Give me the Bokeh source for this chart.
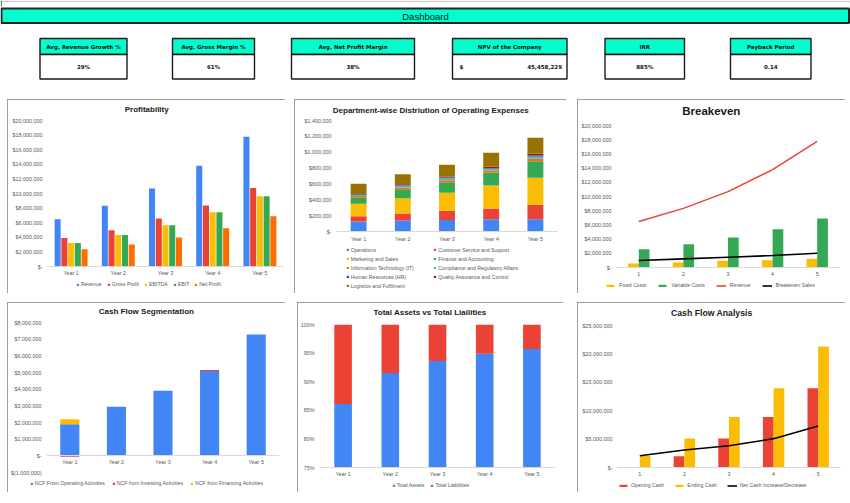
from bokeh.plotting import figure
from bokeh.models import (FactorRange, Range1d, FixedTicker, CustomJSTickFormatter,
                          PrintfTickFormatter, Legend, LegendItem, Label, ColumnDataSource)
from bokeh.transform import dodge
from bokeh.core.properties import value
from bokeh.embed import file_html
from bokeh.resources import INLINE

# ---------------- data ----------------
kpi_labels = ["Avg. Revenue Growth %", "Avg. Gross Margin %", "Avg. Net Profit Margin",
              "NPV of the Company", "IRR", "Payback Period"]
kpi_values = ["29%", "61%", "38%", "45,458,229", "885%", "0.14"]

years = ["Year 1", "Year 2", "Year 3", "Year 4", "Year 5"]
periods = ["1", "2", "3", "4", "5"]

# Profitability
revenue = [6.47e6, 8.33e6, 10.68e6, 13.79e6, 17.77e6]
gross_profit = [3.89e6, 4.98e6, 6.56e6, 8.37e6, 10.77e6]
ebitda = [3.21e6, 4.30e6, 5.66e6, 7.42e6, 9.64e6]
ebit = [3.21e6, 4.30e6, 5.66e6, 7.42e6, 9.64e6]
net_profit = [2.35e6, 3.03e6, 3.98e6, 5.25e6, 6.88e6]

# Department-wise operating expenses
dept_names = ["Operations", "Customer Service and Support", "Marketing and Sales",
              "Finance and Accounting", "Information Technology (IT)",
              "Compliance and Regulatory Affairs", "Human Resources (HR)",
              "Quality Assurance and Control", "Logistics and Fulfilment"]
operations = [126e3, 139e3, 146e3, 156e3, 156e3]
customer_service = [67e3, 88e3, 115e3, 134e3, 180e3]
marketing = [156e3, 193e3, 227e3, 290e3, 341e3]
finance = [84e3, 114e3, 134e3, 160e3, 210e3]
it_costs = [15e3, 21e3, 25e3, 25e3, 29e3]
compliance = [12e3, 21e3, 26e3, 25e3, 30e3]
hr = [6e3, 8e3, 8e3, 9e3, 12e3]
quality = [8e3, 13e3, 13e3, 21e3, 26e3]
logistics = [127e3, 126e3, 147e3, 172e3, 197e3]

# Breakeven
fixed_costs = [0.56e6, 0.70e6, 0.94e6, 1.03e6, 1.22e6]
variable_costs = [2.58e6, 3.28e6, 4.22e6, 5.39e6, 6.89e6]
breakeven_sales = [0.98e6, 1.22e6, 1.45e6, 1.69e6, 2.01e6]

# Cash flow segmentation
ncf_operating = [1.89e6, 2.95e6, 3.90e6, 5.09e6, 7.28e6]
ncf_investing = [-0.06e6, 0.0, 0.0, 0.06e6, 0.0]
ncf_financing = [0.30e6, 0.0, 0.0, 0.0, 0.0]

# Total assets vs total liabilities (share of total, %)
assets_share = [86.1, 91.5, 93.6, 94.9, 95.7]
liabilities_share = [13.9, 8.5, 6.4, 5.1, 4.3]

# Cash flow analysis
opening_cash = [0.0, 2.0e6, 5.12e6, 8.88e6, 13.94e6]
ending_cash = [2.06e6, 5.12e6, 8.88e6, 13.94e6, 21.3e6]
net_cash_change = [2.06e6, 3.08e6, 3.82e6, 5.08e6, 7.32e6]

# ---------------- style ----------------
BLUE, RED, YELLOW, GREEN, ORANGE = "#4285F4", "#EA4335", "#FBBC04", "#34A853", "#FF6D01"
TEAL, DBLUE, DRED, OLIVE = "#46BDC6", "#1C4CB8", "#9B1B13", "#997300"
CYAN = "#00FFCC"
FONT = value("Liberation Sans")
LABEL_COLOR = "#595959"
AXIS_SIZE = "5.4px"
LEG_SIZE = "5.2px"
NAN = float("nan")

DOLLAR_JS = r"""
const t = Math.round(tick);
if (t === 0) { return "$-"; }
const s = Math.abs(t).toString().replace(/\B(?=(\d{3})+(?!\d))/g, ",");
return t < 0 ? "$(" + s + ")" : "$" + s;
"""


def place(left, top, border=True):
    st = {"position": "absolute", "left": f"{left}px", "top": f"{top}px"}
    if border:
        st.update({"outline": "1.5px solid #7f7f7f", "outline-offset": "-1.5px"})
    return st


def panel(pos, w, h, x_range, y_range, left, right, top, bottom, ticks, fmt, x_standoff=3):
    p = figure(width=w, height=h, x_range=x_range, y_range=y_range,
               output_backend="svg", toolbar_location=None, title_location=None,
               min_border_left=left, min_border_right=right,
               min_border_top=top, min_border_bottom=bottom)
    p.outline_line_color = None
    p.grid.grid_line_color = None
    p.background_fill_color = "white"
    p.border_fill_color = "white"
    for ax in p.yaxis:
        ax.axis_line_color = None
        ax.major_tick_line_color = None
        ax.minor_tick_line_color = None
        ax.major_tick_out = 0
        ax.major_tick_in = 0
        ax.minor_tick_out = 0
        ax.ticker = FixedTicker(ticks=ticks)
        ax.formatter = fmt
        ax.major_label_text_font = "Liberation Sans"
        ax.major_label_text_font_size = AXIS_SIZE
        ax.major_label_text_color = LABEL_COLOR
        ax.major_label_standoff = 5
    for ax in p.xaxis:
        ax.axis_line_color = "#d9d9d9"
        ax.axis_line_width = 1
        ax.major_tick_line_color = None
        ax.minor_tick_line_color = None
        ax.major_tick_out = 0
        ax.major_tick_in = 0
        ax.major_label_text_font = "Liberation Sans"
        ax.major_label_text_font_size = AXIS_SIZE
        ax.major_label_text_color = LABEL_COLOR
        ax.major_label_standoff = x_standoff
    p.styles = place(*pos)
    return p


def overlay(pos, w, h, title, tx, ty, tsize="8px"):
    """Transparent layer over a panel holding its title and legend (panel pixel coords)."""
    o = figure(width=w, height=h, x_range=Range1d(0, 1), y_range=Range1d(0, 1),
               x_axis_location=None, y_axis_location=None, title_location=None,
               output_backend="svg", toolbar_location=None, min_border=0)
    o.grid.visible = False
    o.outline_line_color = None
    o.background_fill_alpha = 0
    o.border_fill_alpha = 0
    o.styles = place(*pos, border=False)
    o.add_layout(Label(x=tx, y=h - ty, x_units="screen", y_units="screen", text=title,
                       text_font="Liberation Sans", text_font_style="bold",
                       text_font_size=tsize, text_color="#1a1a1a",
                       text_align="center", text_baseline="middle"))
    return o


def add_legend(o, specs, x, y, gw=3, gh=3, spacing=5, standoff=2,
               orientation="horizontal"):
    # legend proxies: glyphs with an empty (NaN) point, only their swatches show
    items = []
    for label, kind, color in specs:
        if kind == "bar":
            r = o.vbar(x=[NAN], top=[NAN], width=1, fill_color=color, line_color=None)
        else:
            r = o.line(x=[NAN, NAN], y=[NAN, NAN], line_color=color, line_width=1.6)
        items.append(LegendItem(label=label, renderers=[r]))
    lg = Legend(items=items, location=(x, y), orientation=orientation)
    lg.glyph_width = int(gw)
    lg.glyph_height = int(gh)
    lg.label_height = 6
    lg.label_width = 0
    lg.label_standoff = int(standoff)
    lg.spacing = int(spacing)
    lg.padding = 0
    lg.margin = 0
    lg.label_text_font = "Liberation Sans"
    lg.label_text_font_size = LEG_SIZE
    lg.label_text_color = LABEL_COLOR
    lg.background_fill_alpha = 0
    lg.border_line_color = None
    o.add_layout(lg)
    return lg


# ---------------- header ----------------
hdr = figure(width=850, height=97, x_range=Range1d(0, 850), y_range=Range1d(97, 0),
             output_backend="svg", toolbar_location=None, min_border=0,
             title_location=None)
hdr.axis.visible = False
hdr.grid.grid_line_color = None
hdr.outline_line_color = None
hdr.styles = place(0, 0, border=False)
hdr.segment(x0=[0], y0=[1], x1=[850], y1=[1], line_color="#d0d0d0", line_width=1.5)
hdr.segment(x0=[0.8], y0=[0], x1=[0.8], y1=[6], line_color="#4f7f5f", line_width=1.2)
hdr.quad(left=[1], right=[848.5], top=[8], bottom=[22.5], fill_color=CYAN,
         line_color="#262626", line_width=2)
hdr.text(x=[425], y=[15.5], text=["Dashboard"], text_font=FONT, text_font_size="9.5px",
         text_align="center", text_baseline="middle", text_color="#111111")

card_left = [39.5, 172, 291, 452, 604.5, 730]
card_right = [126.5, 254, 414, 566.5, 684, 810.5]
card_top, card_mid, card_bot = 38, 54, 78.5
hdr.quad(left=card_left, right=card_right, top=[card_top] * 6, bottom=[card_mid] * 6,
         fill_color=CYAN, line_color="#1a1a1a", line_width=1.4)
hdr.quad(left=card_left, right=card_right, top=[card_mid] * 6, bottom=[card_bot] * 6,
         fill_color="white", line_color="#1a1a1a", line_width=1.4)
centers = [(l + r) / 2 for l, r in zip(card_left, card_right)]
hdr.text(x=centers, y=[46.2] * 6, text=kpi_labels, text_font=value("DejaVu Sans"),
         text_font_style="bold", text_font_size="5.5px", text_align="center",
         text_baseline="middle", text_color="#111111")
val_x = list(centers)
val_align = ["center"] * 6
val_x[3] = card_right[3] - 5
val_align[3] = "right"
src_vals = ColumnDataSource(dict(x=val_x, y=[66.3] * 6, t=kpi_values, a=val_align))
hdr.text(x="x", y="y", text="t", text_align="a", source=src_vals,
         text_font=value("DejaVu Sans"), text_font_style="bold", text_font_size="5.5px",
         text_baseline="middle", text_color="#111111")
hdr.text(x=[card_left[3] + 7], y=[66.3], text=["$"], text_font=value("DejaVu Sans"),
         text_font_style="bold", text_font_size="5.5px", text_align="left",
         text_baseline="middle", text_color="#111111")

dollar = CustomJSTickFormatter(code=DOLLAR_JS)

# ---------------- 1. Profitability ----------------
P1 = (7, 99)
p1 = panel(P1, 278, 194, FactorRange(*years), Range1d(0, 20e6), 40, 2, 21, 27,
           [i * 2e6 for i in range(11)], dollar)
s1 = ColumnDataSource(dict(x=years, rev=revenue, gp=gross_profit, ebitda=ebitda,
                           ebit=ebit, net=net_profit))
prof_series = [("rev", "Revenue", BLUE), ("gp", "Gross Profit", RED),
               ("ebitda", "EBITDA", YELLOW), ("ebit", "EBIT", GREEN),
               ("net", "Net Profit", ORANGE)]
for i, (col, name, c) in enumerate(prof_series):
    p1.vbar(x=dodge("x", (i - 2) * 0.1425, range=p1.x_range), top=col, width=0.128,
            source=s1, fill_color=c, line_color=None)
o1 = overlay(P1, 278, 194, "Profitability", 139.2, 10)
add_legend(o1, [(n, "bar", c) for _, n, c in prof_series], 68.9, 6, spacing=5)

# ---------------- 2. Department-wise opex ----------------
P2 = (294, 99)
p2 = panel(P2, 272, 194, FactorRange(*years), Range1d(0, 1.4e6), 42, 9, 21, 62,
           [i * 2e5 for i in range(8)], dollar, x_standoff=4)
dept_cols = ["ops", "cs", "mkt", "fin", "it", "comp", "hr", "qa", "log"]
dept_vals = [operations, customer_service, marketing, finance, it_costs, compliance,
             hr, quality, logistics]
dept_colors = [BLUE, RED, YELLOW, GREEN, ORANGE, TEAL, DBLUE, DRED, OLIVE]
s2 = ColumnDataSource(dict(x=years, **{c: v for c, v in zip(dept_cols, dept_vals)}))
p2.vbar_stack(dept_cols, x="x", width=0.36, source=s2, color=dept_colors, line_color=None)
o2 = overlay(P2, 272, 194, "Department-wise Distriution of Operating Expenses", 136.3, 11)
add_legend(o2, [(dept_names[i], "bar", dept_colors[i]) for i in (0, 2, 4, 6, 8)],
           51.7, 4.2, spacing=3, orientation="vertical")
add_legend(o2, [(dept_names[i], "bar", dept_colors[i]) for i in (1, 3, 5, 7)],
           139.3, 13.2, spacing=3, orientation="vertical")

# ---------------- 3. Breakeven ----------------
P3 = (577, 99)
p3 = panel(P3, 268, 194, FactorRange(*periods), Range1d(0, 20e6), 39, 6, 26, 26,
           [i * 2e6 for i in range(11)], dollar, x_standoff=4)
s3 = ColumnDataSource(dict(x=periods, fc=fixed_costs, vc=variable_costs, rev=revenue,
                           be=breakeven_sales))
p3.vbar(x=dodge("x", -0.12, range=p3.x_range), top="fc", width=0.24, source=s3,
        fill_color=YELLOW, line_color=None)
p3.vbar(x=dodge("x", 0.12, range=p3.x_range), top="vc", width=0.24, source=s3,
        fill_color=GREEN, line_color=None)
p3.line(x="x", y="rev", source=s3, line_color=RED, line_width=1.5)
p3.line(x="x", y="be", source=s3, line_color="black", line_width=1.6)
o3 = overlay(P3, 268, 194, "Breakeven", 133.8, 11, tsize="11.5px")
add_legend(o3, [("Fixed Costs", "bar", YELLOW), ("Variable Costs", "bar", GREEN),
                ("Revenue", "line", RED), ("Breakeven Sales", "line", "black")],
           28, 5, gw=10, gh=3, spacing=11, standoff=4)

# ---------------- 4. Cash flow segmentation ----------------
P4 = (7, 302)
p4 = panel(P4, 278, 190, FactorRange(*years), Range1d(-1e6, 8e6), 39, 6, 20, 20,
           [i * 1e6 for i in range(-1, 9)], dollar, x_standoff=3)
p4.xaxis.fixed_location = 0
seg_series = [("NCF From Operating Activities", ncf_operating, BLUE),
              ("NCF from Investing Activities", ncf_investing, RED),
              ("NCF from Financing Activities", ncf_financing, YELLOW)]
pos_acc = [0.0] * 5
neg_acc = [0.0] * 5
for name, vals, c in seg_series:
    bot, top = [], []
    for k, v in enumerate(vals):
        if v >= 0:
            bot.append(pos_acc[k]); top.append(pos_acc[k] + v); pos_acc[k] += v
        else:
            bot.append(neg_acc[k] + v); top.append(neg_acc[k]); neg_acc[k] += v
    src = ColumnDataSource(dict(x=years, b=bot, t=top))
    p4.vbar(x="x", bottom="b", top="t", width=0.41, source=src, fill_color=c,
            line_color=None)
o4 = overlay(P4, 278, 190, "Cash Flow Segmentation", 138.9, 8.8)
add_legend(o4, [(n, "bar", c) for n, _, c in seg_series], 22.7, 6, spacing=7)

# ---------------- 5. Total assets vs liabilities ----------------
P5 = (297, 302)
p5 = panel(P5, 266, 190, FactorRange(*years), Range1d(75, 100), 21, 8, 22, 25,
           [75, 80, 85, 90, 95, 100], PrintfTickFormatter(format="%d%%"))
s5 = ColumnDataSource(dict(x=years, a=assets_share, l=liabilities_share))
p5.vbar_stack(["a", "l"], x="x", width=0.373, source=s5, color=[BLUE, RED],
              line_color=None)
o5 = overlay(P5, 266, 190, "Total Assets vs Total Liailities", 132.5, 10)
add_legend(o5, [("Total Assets", "bar", BLUE), ("Total Liabilities", "bar", RED)],
           94.7, 4, spacing=6)

# ---------------- 6. Cash flow analysis ----------------
P6 = (577, 302)
p6 = panel(P6, 268, 190, FactorRange(*periods), Range1d(0, 25e6), 40, 5, 23, 25,
           [i * 5e6 for i in range(6)], dollar, x_standoff=4)
s6 = ColumnDataSource(dict(x=periods, o=opening_cash, e=ending_cash, n=net_cash_change))
p6.vbar(x=dodge("x", -0.12, range=p6.x_range), top="o", width=0.24, source=s6,
        fill_color=RED, line_color=None)
p6.vbar(x=dodge("x", 0.12, range=p6.x_range), top="e", width=0.24, source=s6,
        fill_color=YELLOW, line_color=None)
p6.line(x="x", y="n", source=s6, line_color="black", line_width=1.6)
o6 = overlay(P6, 268, 190, "Cash Flow Analysis", 134.3, 10, tsize="8.7px")
add_legend(o6, [("Opening Cash", "bar", RED), ("Ending Cash", "bar", YELLOW),
                ("Net Cash Increase/Decrease", "line", "black")],
           41, 4, gw=10, gh=3, spacing=10, standoff=3)

# ---------------- page ----------------
p = [hdr, p1, p2, p3, p4, p5, p6, o1, o2, o3, o4, o5, o6]
open("out.html", "w").write(file_html(p, INLINE))
